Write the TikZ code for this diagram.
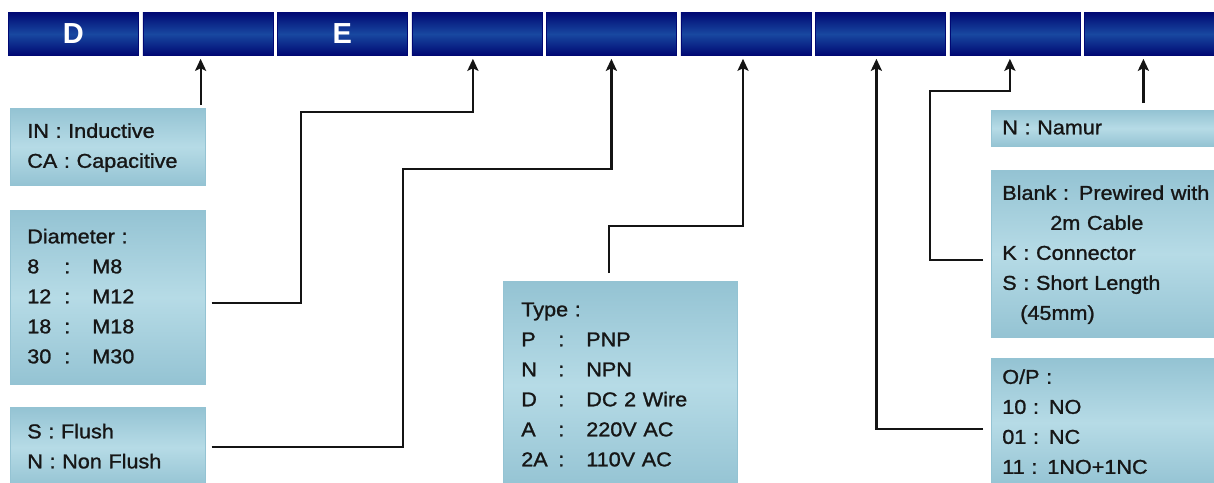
\documentclass[tikz,border=0pt]{standalone}
\usepackage{fontspec}
\usetikzlibrary{arrows.meta,calc}
\newfontfamily\lblfont[FakeStretch=1.08,FakeBold=1.2]{Liberation Sans}
\newfontfamily\capfont{Liberation Sans}
\definecolor{topdark}{RGB}{0,8,115}
\definecolor{toplight}{RGB}{24,72,160}
\definecolor{boxmid}{RGB}{182,219,230}
\definecolor{boxedge}{RGB}{148,195,211}
\definecolor{txt}{RGB}{22,22,22}
\definecolor{linec}{RGB}{20,20,20}
\newcommand\tb[1]{\makebox[37pt][l]{#1}\makebox[28pt][l]{:}}
\begin{document}
\begin{tikzpicture}[x=1pt,y=-1pt,
  topbox/.style={draw=topdark, line width=0.8pt, top color=topdark, bottom color=topdark,
    middle color=toplight, minimum width=130pt, minimum height=43pt, anchor=north west,
    inner sep=0pt, text=white, font=\capfont\bfseries\fontsize{29}{30}\selectfont},
  infobox/.style={draw=boxedge, line width=0.6pt, top color=boxedge, bottom color=boxedge,
    middle color=boxmid, anchor=north west, align=left, inner ysep=0pt, text=txt,
    font=\lblfont\fontsize{20}{30}\selectfont},
  leftbox/.style={infobox, inner xsep=17pt, text width=161pt},
  rightbox/.style={infobox, inner xsep=11pt, text width=215pt},
  arr/.style={draw=linec, line width=2.2pt, -{Stealth[length=12pt,width=11pt,inset=2.5pt]},
    shorten >=3pt},
]
\useasboundingbox (0,0) rectangle (1214,482);
\clip (0,0) rectangle (1214,482);
\fill[white] (0,0) rectangle (1214,482);

% top code boxes
\foreach \i/\lab in {1/D,2/,3/E,4/,5/,6/,7/,8/,9/}
  \node[topbox] (t\i) at ({8+134.5*(\i-1)},12) {\lab};

% left boxes
\node[leftbox, minimum height=77pt] (A) at (10,108)
  {\strut IN : Inductive\\\strut CA : Capacitive};
\node[leftbox, minimum height=174pt] (B) at (10,210)
  {\strut Diameter :\\\strut\tb{8}M8\\\strut\tb{12}M12\\\strut\tb{18}M18\\\strut\tb{30}M30};
\node[leftbox, minimum height=80pt] (C) at (10,407)
  {\strut S : Flush\\\strut N : Non Flush};

% middle box
\node[infobox, inner xsep=18pt, text width=198pt, minimum height=208pt] (D) at (503,281)
  {\strut Type :\\\strut\tb{P}PNP\\\strut\tb{N}NPN\\\strut\tb{D}DC 2 Wire\\\strut\tb{A}220V AC\\\strut\tb{2A}110V AC};

% right boxes
\node[rightbox, minimum height=36pt] (N) at (991,110) {\strut N : Namur};
\node[rightbox, minimum height=167pt] (Bl) at (991,170)
  {\strut Blank : Prewired with\\\strut\hspace*{48pt}2m Cable\\\strut K : Connector\\\strut S : Short Length\\\strut\hspace*{18pt}(45mm)};
\node[rightbox, minimum height=129pt] (OP) at (991,358)
  {\strut O/P :\\\strut 10 : NO\\\strut 01 : NC\\\strut 11 : 1NO+1NC};

% bend points
\coordinate (c2) at (301,112);
\coordinate (c3) at (403,169);
\coordinate (c4) at (743,226);
\coordinate (c6) at (930,91);

% connectors
\draw[arr, shorten <=3pt] ([xshift=-5pt]A.north east) -- ([xshift=-5pt]A.north east |- t2.south);
\draw[arr, shorten <=6pt] ([yshift=-6pt]B.east) -| (c2) -| ([xshift=-4pt]t4.south);
\draw[arr, shorten <=6pt] (C.east) -| (c3) -| (t5.south);
\draw[arr, shorten <=8pt] ([xshift=-11pt]D.north) |- (c4) -- (c4 |- t6.south);
\draw[arr, shorten <=8pt] ([yshift=-6.5pt]OP.west) -| ([xshift=-4pt]t7.south);
\draw[arr, shorten <=8pt] ([yshift=-6.5pt]Bl.west) -| (c6) -| ([xshift=-5pt]t8.south);
\draw[arr, shorten <=7pt] ([xshift=-6pt]t9.south |- N.north) -- ([xshift=-6pt]t9.south);
\end{tikzpicture}
\end{document}
